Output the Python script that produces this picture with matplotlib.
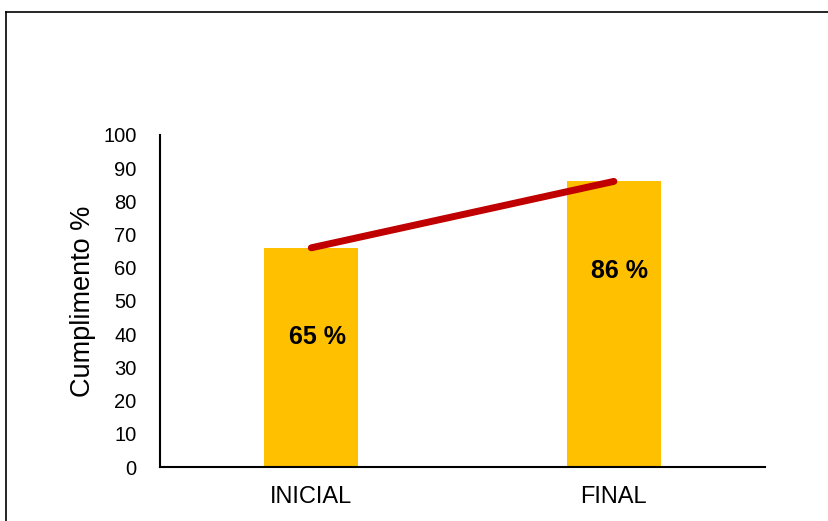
import matplotlib
matplotlib.use("Agg")
import matplotlib.pyplot as plt
from matplotlib.lines import Line2D

plt.rcParams['font.family'] = ['Liberation Sans', 'DejaVu Sans']

# data
categorias = ['INICIAL', 'FINAL']
cumplimiento = [66, 86]
etiquetas = ['65 %', '86 %']

fig = plt.figure(figsize=(8.29, 5.21), dpi=100)
ax = fig.add_axes([0.193, 0.1036, 0.73, 0.6375])

x = list(range(len(categorias)))
ax.bar(x, cumplimiento, width=0.31, color='#FFC000', zorder=2)
ax.plot(x, cumplimiento, color='#C00000', linewidth=5, solid_capstyle='round', zorder=3)

for xi, v, lab in zip(x, cumplimiento, etiquetas):
    ax.text(xi + 0.02, v - 27, lab, ha='center', va='center',
            fontsize=18, fontweight='bold', color='black', zorder=4)

ax.set_xlim(-0.5, 1.5)
ax.set_ylim(0, 100)
ax.set_yticks(range(0, 101, 10))
ax.set_xticks(x)
ax.set_xticklabels(categorias, fontsize=17)
ax.tick_params(axis='y', labelsize=14.5, length=0, pad=17)
ax.tick_params(axis='x', length=0, pad=14)
ax.set_ylabel('Cumplimento %', fontsize=19.5, labelpad=5)

for s in ['top', 'right']:
    ax.spines[s].set_visible(False)
ax.spines['left'].set_linewidth(1.5)
ax.spines['bottom'].set_linewidth(1.5)

# outer frame (left and top edges)
fig.add_artist(Line2D([6 / 829, 6 / 829], [0, 1 - 11.5 / 521], color='black', linewidth=1.2, transform=fig.transFigure))
fig.add_artist(Line2D([6 / 829, 1], [1 - 11.5 / 521, 1 - 11.5 / 521], color='black', linewidth=1.2, transform=fig.transFigure))

fig.savefig('out.png', dpi=100)
